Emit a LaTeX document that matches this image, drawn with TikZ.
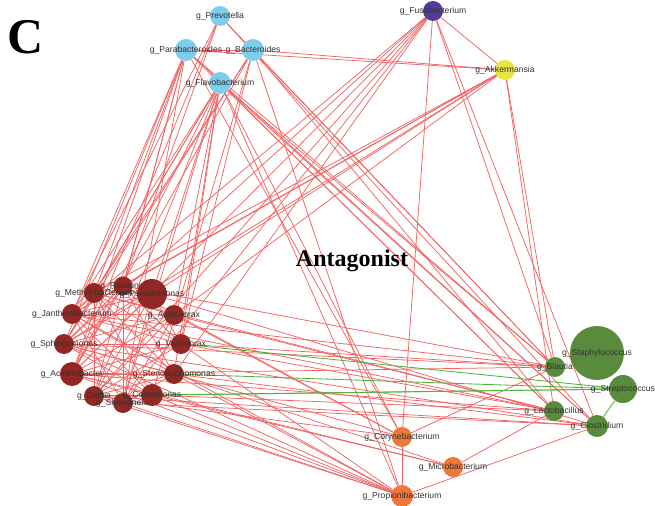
\documentclass[tikz,border=0pt]{standalone}
\usepackage{fontspec}
\setmainfont{Liberation Serif}
\newfontfamily\labfont{Liberation Sans}
\pgfdeclarelayer{background}
\pgfsetlayers{background,main}
\definecolor{cblue}{RGB}{125,205,235}
\definecolor{cpurple}{RGB}{82,62,150}
\definecolor{cyellow}{RGB}{232,228,64}
\definecolor{cbrown}{RGB}{145,40,35}
\definecolor{cgreen}{RGB}{88,140,60}
\definecolor{corange}{RGB}{238,120,55}
\definecolor{redge}{RGB}{242,100,100}
\definecolor{gedge}{RGB}{80,180,60}
\definecolor{labgray}{RGB}{50,50,50}
\tikzset{
  bug/.style={circle,inner sep=0pt,draw=none},
  lab/.style={font=\labfont\fontsize{8.6bp}{9bp}\selectfont,text=labgray,inner sep=0pt},
  rline/.style={draw=redge,line width=0.75bp},
  gline/.style={draw=gedge,line width=0.85bp},
}
\begin{document}
\begin{tikzpicture}[x=1bp,y=-1bp]
\useasboundingbox (0,0) rectangle (655,506);
\node[font=\fontsize{50bp}{50bp}\selectfont\bfseries,inner sep=0pt] (lblC) at (26,37) {C};
\node[font=\fontsize{24bp}{24bp}\selectfont\bfseries,inner sep=0pt] (lblA) at (352,261) {Antagonist};
% nodes: name/x/y/diameter/colour/label
\foreach \n/\x/\y/\d/\c/\t in {
 prev/220/16/20/cblue/g\_Prevotella,
 para/186/50/22/cblue/g\_Parabacteroides,
 bact/253/50/22/cblue/g\_Bacteroides,
 flav/220/83/22/cblue/g\_Flavobacterium,
 fuso/433/11/20/cpurple/g\_Fusobacterium,
 akk/505/70/20/cyellow/g\_Akkermansia,
 ral/123/286/19/cbrown/g\_Ralstonia,
 meth/94/293/20/cbrown/g\_Methylobacterium,
 pse/152/294/30/cbrown/g\_Pseudomonas,
 jan/72/314/20/cbrown/g\_Janthinobacterium,
 acid/174/315/20/cbrown/g\_Acidovorax,
 sph/64/344/20/cbrown/g\_Sphingomonas,
 var/181/344/20/cbrown/g\_Variovorax,
 acin/72/374/24/cbrown/g\_Acinetobacter,
 ste/174/374/20/cbrown/g\_Stenotrophomonas,
 del/94/396/20/cbrown/g\_Delftia,
 she/123/403/20/cbrown/g\_Shewanella,
 com/152/395/22/cbrown/g\_Comamonas,
 sta/597/353/54/cgreen/g\_Staphylococcus,
 bla/555/367/20/cgreen/g\_Blautia,
 str/623/389/28/cgreen/g\_Streptococcus,
 lac/554/411/20/cgreen/g\_Lactobacillus,
 clo/597/426/22/cgreen/g\_Clostridium,
 cor/402/437/20/corange/g\_Corynebacterium,
 mic/453/467/20/corange/g\_Microbacterium,
 pro/402/496/22/corange/g\_Propionibacterium}
{
 \node[bug,fill=\c,minimum size=\d bp] (\n) at (\x,\y) {};
 \node[lab] (\n-l) at (\x,\y) {\t};
}
\begin{pgfonlayer}{background}
% red (antagonistic) links
\foreach \a/\b in {
 prev/jan, prev/acin, prev/ral, prev/bla, prev/clo,
 para/meth, para/jan, para/sph, para/acin, para/del, para/she, para/ral,
 para/bla, para/lac, para/clo, para/akk, para/cor, para/bact,
 bact/sph, bact/acin, bact/meth, bact/var, bact/com,
 bact/bla, bact/lac, bact/akk, bact/pro,
 flav/meth, flav/jan, flav/sph, flav/acin, flav/del, flav/she, flav/pse,
 flav/acid, flav/var, flav/ste, flav/bla, flav/lac, flav/clo, flav/pro, flav/cor,
 fuso/acin, fuso/del, fuso/sph, fuso/she, fuso/ste, fuso/jan,
 fuso/cor, fuso/clo, fuso/akk, fuso/bla,
 akk/pse, akk/ral, akk/meth, akk/jan, akk/acid, akk/sph, akk/bla, akk/lac,
 meth/ral, meth/jan, meth/sph, meth/acid, meth/var, meth/ste, meth/com, meth/del,
 ral/jan, ral/sph, ral/acin, ral/var, ral/ste, ral/she,
 pse/jan, pse/sph, pse/acin, pse/del, pse/she, pse/var,
 jan/acid, jan/var, jan/ste, jan/com, jan/she,
 acid/sph, acid/acin, acid/del, acid/she,
 sph/var, sph/ste, sph/com, var/acin, var/del,
 acin/ste, acin/com, ste/del, ste/she, del/com,
 sph/bla, acin/bla, jan/bla, meth/lac, acid/lac, var/lac, del/clo, she/clo,
 com/lac, ral/bla, ste/clo, pse/clo, jan/lac, sph/clo, var/bla, acin/lac,
 acin/pro, del/pro, she/pro, com/pro, sph/pro, ste/pro, var/pro, jan/pro,
 acid/cor, sph/cor, ral/cor, com/mic, acin/mic, ste/mic, del/cor,
 cor/pro, mic/lac, pro/clo, cor/bla}
{ \draw[rline] (\a) -- (\b); }
% green links
\foreach \a/\b in {var/str, ste/str, com/str, del/str, str/clo}
{ \draw[gline] (\a) -- (\b); }
\end{pgfonlayer}
\end{tikzpicture}
\end{document}
